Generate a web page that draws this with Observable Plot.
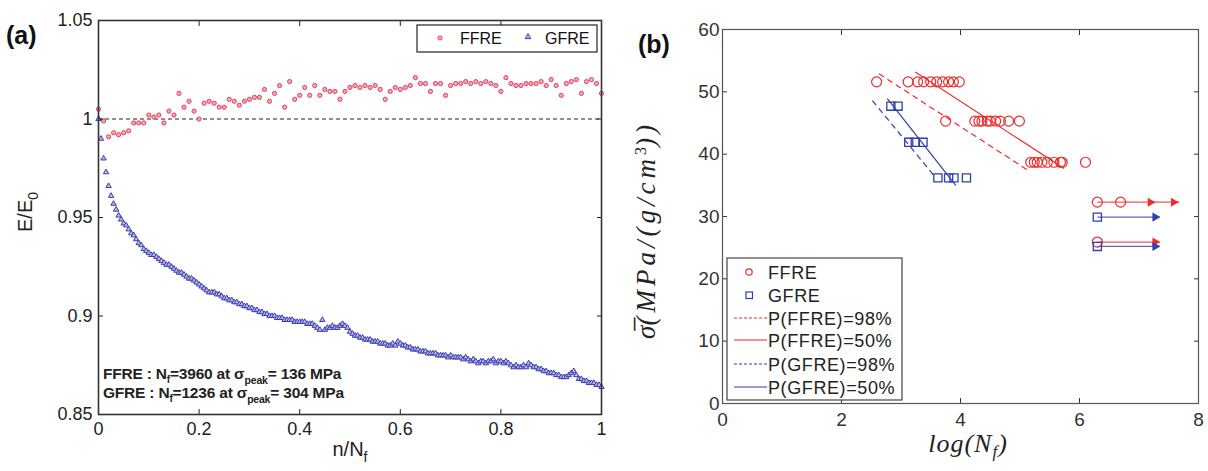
<!DOCTYPE html>
<html><head><meta charset="utf-8">
<script src="https://cdn.jsdelivr.net/npm/d3@7"></script>
<script src="https://cdn.jsdelivr.net/npm/@observablehq/plot@0.6"></script>
<style>
html,body{margin:0;padding:0;background:#fff;}
#wrap{position:relative;width:1208px;height:471px;overflow:hidden;font-family:"Liberation Sans",Arial,sans-serif;}
#wrap > svg{position:absolute;top:0;}
</style></head><body><div id="wrap"></div>
<script>
// ---------- Panel (a): E/E0 vs n/Nf ----------
const ffreStep = 0.01;   // sampling of n/Nf for FFRE
const ffreRatio = [
1.005,0.999,0.991,0.993,0.992,0.993,0.994,0.998,0.998,0.998,
1.002,1.001,1.002,0.998,1.004,1.002,1.013,1.006,1.009,1.004,
1.000,1.008,1.009,1.008,1.006,1.006,1.010,1.009,1.007,1.009,
1.010,1.011,1.011,1.015,1.009,1.013,1.017,1.006,1.019,1.010,
1.012,1.016,1.012,1.017,1.012,1.015,1.014,1.014,1.010,1.014,
1.016,1.017,1.016,1.017,1.016,1.017,1.015,1.010,1.014,1.016,
1.015,1.016,1.017,1.021,1.018,1.018,1.014,1.018,1.018,1.012,
1.017,1.018,1.018,1.019,1.018,1.019,1.018,1.019,1.018,1.017,
1.014,1.021,1.018,1.017,1.017,1.018,1.018,1.018,1.019,1.017,
1.020,1.017,1.012,1.018,1.019,1.020,1.013,1.019,1.020,1.018,
1.013];
const gfreStep = 0.005;  // sampling of n/Nf for GFRE
const gfreRatio = [
1.000,0.990,0.980,0.973,0.966,0.961,0.957,0.954,0.951,0.949,0.947,0.946,0.944,0.942,0.941,0.939,0.937,0.936,0.934,0.933,
0.932,0.931,0.931,0.930,0.929,0.928,0.927,0.926,0.926,0.925,0.924,0.923,0.922,0.922,0.921,0.920,0.919,0.919,0.918,0.917,
0.916,0.915,0.914,0.913,0.912,0.912,0.912,0.911,0.911,0.910,0.909,0.909,0.908,0.908,0.907,0.907,0.906,0.906,0.905,0.905,
0.904,0.904,0.903,0.903,0.902,0.902,0.901,0.901,0.900,0.900,0.900,0.899,0.899,0.899,0.898,0.898,0.898,0.898,0.897,0.897,
0.897,0.897,0.897,0.896,0.896,0.896,0.895,0.894,0.893,0.898,0.893,0.894,0.894,0.895,0.894,0.894,0.895,0.896,0.895,0.894,
0.892,0.891,0.890,0.890,0.889,0.889,0.888,0.888,0.888,0.887,0.887,0.887,0.886,0.886,0.886,0.885,0.885,0.886,0.885,0.887,
0.886,0.885,0.885,0.884,0.884,0.883,0.883,0.883,0.882,0.882,0.882,0.881,0.881,0.881,0.881,0.880,0.880,0.880,0.880,0.879,
0.880,0.879,0.879,0.879,0.879,0.878,0.879,0.878,0.877,0.878,0.877,0.876,0.877,0.877,0.876,0.877,0.877,0.878,0.876,0.877,
0.877,0.876,0.877,0.876,0.875,0.874,0.875,0.874,0.874,0.875,0.874,0.876,0.875,0.874,0.874,0.873,0.873,0.872,0.872,0.871,
0.871,0.871,0.870,0.870,0.869,0.869,0.869,0.870,0.871,0.872,0.870,0.868,0.868,0.867,0.867,0.866,0.866,0.866,0.865,0.865,
0.864];
const xTicksA = [0, 0.2, 0.4, 0.6, 0.8, 1];
const yTicksA = [0.85, 0.9, 0.95, 1, 1.05];

// ---------- Panel (b): S-N data ----------
const ffreLogN   = [2.59,3.12,3.28,3.38,3.50,3.60,3.70,3.80,3.88,3.98, 3.75,4.24,4.31,4.36,4.45,4.50,4.59,4.67,4.81,4.99, 5.18,5.24,5.29,5.37,5.46,5.57,5.68,5.71,6.10];
const ffreStress = [51.6,51.6,51.6,51.6,51.6,51.6,51.6,51.6,51.6,51.6, 45.3,45.3,45.3,45.3,45.3,45.3,45.3,45.3,45.3,45.3, 38.7,38.7,38.7,38.7,38.7,38.7,38.7,38.7,38.7];
const gfreLogN   = [2.83,2.95,3.13,3.24,3.37,3.62,3.80,3.89,4.10];
const gfreStress = [47.7,47.7,41.9,41.9,41.9,36.2,36.2,36.2,36.2];
// probability fit lines
const fitName = ["P(FFRE)=98%","P(FFRE)=50%","P(GFRE)=98%","P(GFRE)=50%"];
const fitX1 = [2.63,3.24,2.52,2.77];
const fitY1 = [52.9,53.2,48.6,48.9];
const fitX2 = [5.12,5.74,3.55,3.92];
const fitY2 = [37.5,37.7,36.6,35.0];
// run-out specimens
const runMat    = ["FFRE","GFRE","FFRE","GFRE"];
const runStress = [32.3,29.9,25.9,25.2];
const runStart  = [6.30,6.30,6.30,6.30];
const runEnd    = [7.68,7.35,7.35,7.35];
const runPtMat  = ["FFRE","FFRE","GFRE","FFRE","GFRE"];
const runPtX    = [6.30,6.69,6.30,6.30,6.30];
const runPtY    = [32.3,32.3,29.9,25.9,25.2];
const headMat   = ["FFRE","FFRE","GFRE","FFRE","GFRE"];
const headX     = [7.19,7.58,7.27,7.27,7.27];
const headY     = [32.3,32.3,29.9,25.9,25.2];
const xTicksB = [0,2,4,6,8];
const yTicksB = [0,10,20,30,40,50,60];

const RED_A = "#e2405c", BLUE_A = "#3b3db2";
const RED = "#ee2a2a", BLUE = "#2f3fae";
const wrap = document.getElementById("wrap");

// ---- build panel a
const ffre = ffreRatio.map((v,i)=>({n:+(i*ffreStep).toFixed(3), e:v}));
const gfre = gfreRatio.map((v,i)=>({n:+(i*gfreStep).toFixed(3), e:v}));
const axA = "#222";
const plotA = Plot.plot({
  width: 610, height: 471,
  marginLeft: 98, marginRight: 9, marginTop: 20, marginBottom: 57,
  style: {fontFamily: "'Liberation Sans', Arial, sans-serif", fontSize: "18px", color: axA, background: "transparent"},
  x: {domain: [0,1]},
  y: {domain: [0.85,1.05]},
  marks: [
    Plot.ruleY([1], {stroke: "#222", strokeWidth: 1, strokeDasharray: "4,3"}),
    Plot.dot(ffre, {x:"n", y:"e", r:2.1, stroke: RED_A, fill: "#f4a7b4", strokeWidth: 1}),
    Plot.dot(gfre, {x:"n", y:"e", r:2.0, symbol:"triangle", stroke: BLUE_A, fill: "#b9bbe6", strokeWidth: 1}),
    Plot.axisX({ticks: xTicksA, anchor:"bottom", tickSize:-5, tickPadding: 13, tickFormat: d=>String(d), label:null, stroke: axA}),
    Plot.axisX({ticks: xTicksA, anchor:"top", tickSize:-5, tickFormat: ()=>"", label:null, stroke: axA}),
    Plot.axisY({ticks: yTicksA, anchor:"left", tickSize:-5, tickPadding: 11, tickFormat: d=>String(d), label:null, stroke: axA}),
    Plot.axisY({ticks: yTicksA, anchor:"right", tickSize:-5, tickFormat: ()=>"", label:null, stroke: axA}),
    Plot.frame({stroke: "#333", strokeWidth: 1.6})
  ]
});
plotA.style.left = "0px";
wrap.appendChild(plotA);
{
  const s = d3.select(plotA);
  const sx = plotA.scale("x");
  s.append("text").attr("x", 6).attr("y", 44).attr("text-anchor","start").attr("font-size", 25).attr("font-weight", "bold").attr("fill", "#111").text("(a)");
  const xl = s.append("text").attr("x", 350).attr("y", 456).attr("text-anchor","middle").attr("font-size", 20).attr("fill","#222");
  xl.append("tspan").text("n/N");
  xl.append("tspan").attr("dy", 6).attr("font-size", 14).text("f");
  const yl = s.append("text").attr("transform","translate(32,212) rotate(-90)").attr("text-anchor","middle").attr("font-size", 20).attr("fill","#222");
  yl.append("tspan").text("E/E");
  yl.append("tspan").attr("dy", 6).attr("font-size", 14).text("0");
  // legend
  const lx = 417, ly = 25;
  s.append("rect").attr("x", lx).attr("y", ly).attr("width", 180).attr("height", 27).attr("fill","#fff").attr("stroke","#222").attr("stroke-width",1.2);
  s.append("circle").attr("cx", lx+23).attr("cy", ly+13).attr("r", 2.1).attr("stroke", RED_A).attr("fill","#f4a7b4");
  s.append("text").attr("x", lx+43).attr("y", ly+19).attr("text-anchor","start").attr("font-size", 16).attr("fill","#111").text("FFRE");
  s.append("path").attr("d", d3.symbol(d3.symbolTriangle, 14)()).attr("transform", `translate(${lx+111},${ly+12})`).attr("stroke", BLUE_A).attr("fill","#b9bbe6");
  s.append("text").attr("x", lx+128).attr("y", ly+19).attr("text-anchor","start").attr("font-size", 16).attr("fill","#111").text("GFRE");
  // annotation
  const ax0 = sx.apply(0) + 5;
  const lines = [["FFRE : N","=3960 at σ","= 136 MPa"],["GFRE : N","=1236 at σ","= 304 MPa"]];
  lines.forEach((L, k) => {
    const t = s.append("text").attr("x", ax0).attr("y", 379 + k*19).attr("text-anchor","start").attr("font-size", 15.5).attr("font-weight","bold").attr("fill","#222").attr("letter-spacing", -0.2);
    t.append("tspan").text(L[0]);
    t.append("tspan").attr("dy", 4).attr("font-size", 10).text("f");
    t.append("tspan").attr("dy", -4).text(L[1]);
    t.append("tspan").attr("dy", 5).attr("font-size", 10.5).text("peak");
    t.append("tspan").attr("dy", -5).text(L[2]);
  });
}

// ---- build panel b
const ffrePts = ffreLogN.map((x,i)=>({x, y: ffreStress[i]}));
const gfrePts = gfreLogN.map((x,i)=>({x, y: gfreStress[i]}));
const fits = fitName.map((name,i)=>({name, x1: fitX1[i], y1: fitY1[i], x2: fitX2[i], y2: fitY2[i], c: name.includes("FFRE") ? RED : BLUE, dashed: name.includes("98")}));
const runs = runMat.map((m,i)=>({m, y: runStress[i], x1: runStart[i], x2: runEnd[i]}));
const runPts = runPtMat.map((m,i)=>({m, x: runPtX[i], y: runPtY[i]}));
const heads = headMat.map((m,i)=>({m, x: headX[i], y: headY[i]}));
const axB = "#333";
const plotB = Plot.plot({
  width: 598, height: 471,
  marginLeft: 112, marginRight: 10, marginTop: 29, marginBottom: 68,
  style: {fontFamily: "'Liberation Sans', Arial, sans-serif", fontSize: "19px", color: axB, background: "transparent"},
  x: {domain: [0,8]},
  y: {domain: [0,60]},
  marks: [
    Plot.link(fits.filter(d=>d.dashed), {x1:"x1", y1:"y1", x2:"x2", y2:"y2", stroke: d=>d.c, strokeWidth: 1.2, strokeDasharray: "6,4"}),
    Plot.link(fits.filter(d=>!d.dashed), {x1:"x1", y1:"y1", x2:"x2", y2:"y2", stroke: d=>d.c, strokeWidth: 1.2}),
    Plot.link(runs, {x1:"x1", x2:"x2", y1:"y", y2:"y", stroke: d=> d.m==="FFRE" ? RED : BLUE, strokeWidth: 1.2, strokeOpacity: 0.8}),
    Plot.dot(heads, {x:"x", y:"y", symbol:"triangle2", rotate: 90, r: 4.3, fill: d=> d.m==="FFRE" ? RED : BLUE, stroke:"none"}),
    Plot.dot(ffrePts, {x:"x", y:"y", r:5, stroke: RED, fill:"none", strokeWidth: 1.2}),
    Plot.dot(gfrePts, {x:"x", y:"y", r:4.6, symbol:"square", stroke: BLUE, fill:"none", strokeWidth: 1.3}),
    Plot.dot(runPts.filter(d=>d.m==="FFRE"), {x:"x", y:"y", r:5, stroke: RED, fill:"none", strokeWidth: 1.2}),
    Plot.dot(runPts.filter(d=>d.m==="GFRE"), {x:"x", y:"y", r:4.6, symbol:"square", stroke: BLUE, fill:"none", strokeWidth: 1.3}),
    Plot.axisX({ticks: xTicksB, anchor:"bottom", tickSize:-5, tickPadding: 14, tickFormat: d=>String(d), label:null, stroke: axB}),
    Plot.axisX({ticks: xTicksB, anchor:"top", tickSize:-5, tickFormat: ()=>"", label:null, stroke: axB}),
    Plot.axisY({ticks: yTicksB, anchor:"left", tickSize:-5, tickPadding: 8, tickFormat: d=>String(d), label:null, stroke: axB}),
    Plot.axisY({ticks: yTicksB, anchor:"right", tickSize:-5, tickFormat: ()=>"", label:null, stroke: axB}),
    Plot.frame({stroke: "#555", strokeWidth: 1.2})
  ]
});
plotB.style.left = "610px";
wrap.appendChild(plotB);
{
  const s = d3.select(plotB);
  s.append("text").attr("x", 28).attr("y", 53).attr("text-anchor","start").attr("font-size", 25).attr("font-weight","bold").attr("fill","#111").text("(b)");
  const serif = "'Liberation Serif', 'DejaVu Serif', serif";
  const xl = s.append("text").attr("x", 358).attr("y", 452).attr("text-anchor","middle").attr("font-size", 26).attr("font-style","italic").attr("font-family", serif).attr("letter-spacing", 1).attr("fill","#222");
  xl.append("tspan").text("log(N");
  xl.append("tspan").attr("dy", 5).attr("font-size", 17).text("f");
  xl.append("tspan").attr("dy", -5).text(")");
  const yl = s.append("text").attr("transform","translate(45,230) rotate(-90)").attr("text-anchor","middle").attr("font-size", 27).attr("font-style","italic").attr("font-family", serif).attr("fill","#222");
  yl.append("tspan").attr("letter-spacing", 0).text("σ\u0305");
  yl.append("tspan").attr("letter-spacing", 4).text("(MPa/(g/cm");
  yl.append("tspan").attr("dy", -9).attr("font-size", 16).attr("font-style","normal").text("3");
  yl.append("tspan").attr("dy", 9).attr("letter-spacing", 4).text("))");
  // legend
  const lx = 117, ly = 258;
  s.append("rect").attr("x", lx).attr("y", ly).attr("width", 175).attr("height", 142).attr("fill","#fff").attr("stroke","#444").attr("stroke-width",1.2);
  const rows = [
    {t:"FFRE", y:272, kind:"circle", c:RED},
    {t:"GFRE", y:295, kind:"square", c:BLUE},
    {t:"P(FFRE)=98%", y:318, kind:"dash", c:RED},
    {t:"P(FFRE)=50%", y:340, kind:"line", c:RED},
    {t:"P(GFRE)=98%", y:364, kind:"dash", c:BLUE},
    {t:"P(GFRE)=50%", y:387, kind:"line", c:BLUE}
  ];
  rows.forEach(r => {
    if (r.kind === "circle") s.append("circle").attr("cx", 139).attr("cy", r.y).attr("r", 3.2).attr("fill","none").attr("stroke", r.c).attr("stroke-width",1.2);
    else if (r.kind === "square") s.append("rect").attr("x", 136).attr("y", r.y-3).attr("width", 6.5).attr("height", 6.5).attr("fill","none").attr("stroke", r.c).attr("stroke-width",1.2);
    else s.append("line").attr("x1", 124).attr("x2", 157).attr("y1", r.y).attr("y2", r.y).attr("stroke", r.c).attr("stroke-width",1.2).attr("stroke-dasharray", r.kind==="dash" ? "3,2" : null);
    s.append("text").attr("x", 158).attr("y", r.y + 6.5).attr("text-anchor","start").attr("font-size", 18).attr("letter-spacing", 0.6).attr("fill","#222").text(r.t);
  });
}
</script>
</body></html>
